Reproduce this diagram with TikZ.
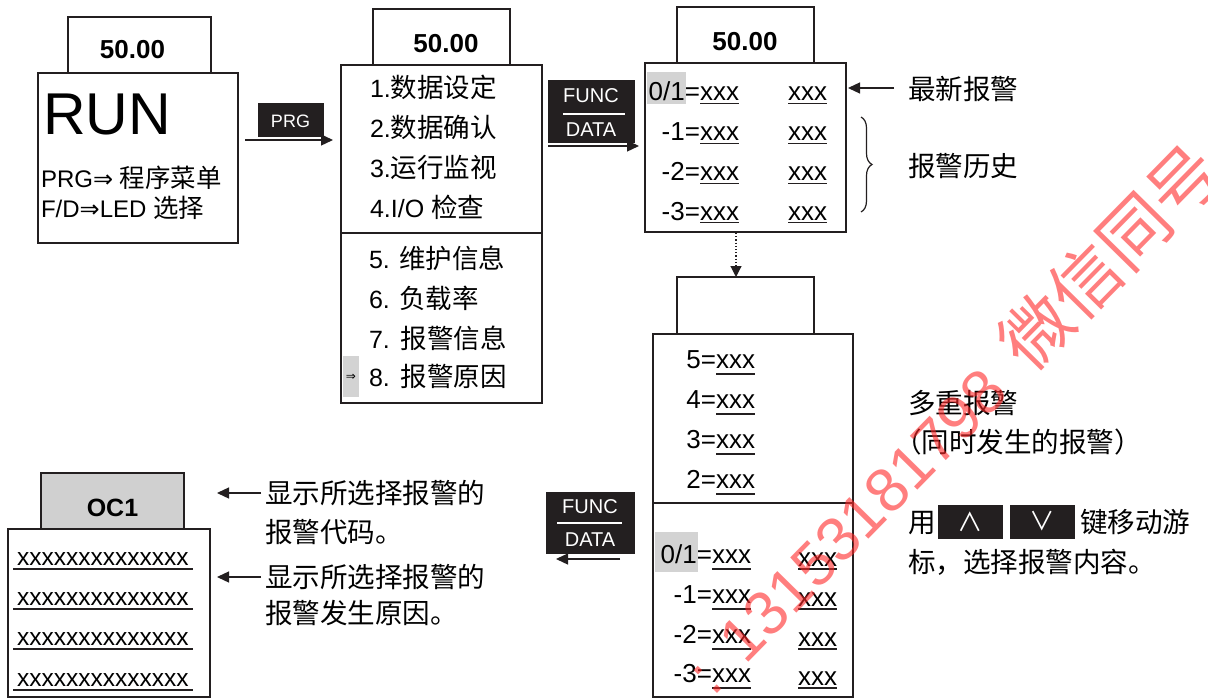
\documentclass[tikz,border=0pt]{standalone}
\usepackage{fontspec}
\setmainfont{Liberation Sans}
\newfontfamily\cjk[Scale=1.06]{Noto Sans CJK SC}
\newfontfamily\djv{DejaVu Sans}
\usetikzlibrary{arrows.meta,fit,decorations.pathreplacing}
\definecolor{ink}{RGB}{35,31,32}
\definecolor{hl}{RGB}{211,211,211}
\definecolor{ocg}{RGB}{208,208,208}
\definecolor{wmred}{RGB}{255,40,40}
\newcommand{\fsz}[1]{\fontsize{#1}{#1}\selectfont}
\newcommand{\eqrow}[5]{%
  \node[txt, anchor=base east] (#1l) at (#3,#4) {#2=};
  \node[txt] (#1x) at (#3,#4) {xxx};
  \draw[uline] ([yshift=-#5pt]#1x.base west) -- ([yshift=-#5pt]#1x.base east);
}
\newcommand{\xonly}[4]{%
  \node[txt] (#1) at (#2,#3) {xxx};
  \draw[uline] ([yshift=-#4pt]#1.base west) -- ([yshift=-#4pt]#1.base east);
}
\newcommand{\ocrow}[3]{%
  \node[txt, font=\fsz{24.5}] (#1) at (17,#2) {xxxxxxxxxxxxxx};
  \draw[uline] ([xshift=-4pt,yshift=-#3pt]#1.base west) -- ([xshift=4pt,yshift=-#3pt]#1.base east);
}
\begin{document}
\begin{tikzpicture}[x=1pt,y=-1pt,
  box/.style={draw=ink, line width=1.6pt, inner sep=0pt},
  btn/.style={fill=ink, draw=ink, line width=0.6pt, inner sep=0pt},
  hlbox/.style={fill=hl, inner sep=0pt},
  txt/.style={inner sep=0pt, outer sep=0pt, anchor=base west, text=black, font=\fsz{26}},
  mtxt/.style={txt, font=\fsz{25}},
  ntxt/.style={inner sep=0pt, anchor=base, font=\bfseries\fsz{26}},
  wtxt/.style={inner sep=0pt, anchor=base, text=white},
  ctxt/.style={txt, font=\cjk\fsz{26}},
  keyglyph/.style={inner sep=0pt, text=white, font=\cjk\fsz{24}},
  arr/.style={draw=ink, line width=1.3pt, -{Triangle[length=12pt,width=11pt]}},
  uline/.style={draw=ink, line width=1.8pt},
  wm/.style={rotate=45.5, anchor=base west, inner sep=0pt, text=wmred, text opacity=0.6}
]
\useasboundingbox (0,0) rectangle (1208,698);
\fill[white] (0,0) rectangle (1208,698);

% ---------------- RUN display ----------------
\node[box, fit={(68,17) (211,73)}] (runtop) {};
\node[box, fit={(38,73) (238,243)}] (run) {};
\node[ntxt] (runnum) at (132.5,59) {50.00};
\node[txt, font=\fsz{59}] (runlbl) at (43,135) {RUN};
\node[txt, font=\fsz{24}] (runl1) at (41,187) {PRG{\djv ⇒} {\cjk 程序菜单}};
\node[txt, font=\fsz{24}] (runl2) at (41,217) {F/D{\djv ⇒}LED {\cjk 选择}};

% PRG key and arrow
\node[btn, fit={(258,103) (323,136)}] (prg) {};
\node[wtxt, font=\fsz{18}] (prgt) at (290.5,128) {PRG};
\coordinate (a1s) at (245,140);
\coordinate (a1e) at (333,140);
\draw[arr] (a1s) -- (a1e);

% ---------------- Program menu ----------------
\node[box, fit={(373,9) (510,65)}] (mtop) {};
\node[box, fit={(341,65) (542,233)}] (menuA) {};
\node[box, fit={(341,233) (542,403)}] (menuB) {};
\node[ntxt] (mnum) at (446,53) {50.00};
\node[mtxt] (m1) at (370,98) {1.{\cjk 数据设定}};
\node[mtxt] (m2) at (370,138) {2.{\cjk 数据确认}};
\node[mtxt] (m3) at (370,178) {3.{\cjk 运行监视}};
\node[mtxt] (m4) at (370,217) {4.I/O {\cjk 检查}};
\node[mtxt] (m5) at (369,268) {5. {\cjk 维护信息}};
\node[mtxt] (m6) at (369,308) {6. {\cjk 负载率}};
\node[mtxt] (m7) at (369,348) {7.\hspace{11pt}{\cjk 报警信息}};
\node[hlbox, fit={(343,356) (359,397)}] (mhl) {};
\node[inner sep=0pt, font=\djv\fsz{12}] (mcur) at (351,377) {⇒};
\node[mtxt] (m8) at (369,386) {8.\hspace{11pt}{\cjk 报警原因}};

% FUNC/DATA key 1 and arrow
\node[btn, fit={(548,80) (634,142)}] (fd1) {};
\node[wtxt, font=\fsz{20}] (fd1a) at (591,103) {FUNC};
\draw[white, line width=1.2pt] (563,114) -- (625,114);
\node[wtxt, font=\fsz{20}] (fd1b) at (591,137) {DATA};
\coordinate (a2s) at (548,146);
\coordinate (a2e) at (639,146);
\draw[arr] (a2s) -- (a2e);

% ---------------- Alarm display ----------------
\node[box, fit={(677,7) (814,63)}] (atop) {};
\node[box, fit={(645,63) (846,232)}] (alarm) {};
\node[ntxt] (anum) at (745,51) {50.00};
\node[hlbox, fit={(647,72) (686,104)}] (ahl) {};
\eqrow{r0}{0/1}{700}{101}{2.5}
\eqrow{r1}{-1}{700}{141}{2.5}
\eqrow{r2}{-2}{700}{181}{2.5}
\eqrow{r3}{-3}{700}{220}{2.5}
\xonly{s0}{788}{101}{2.5}
\xonly{s1}{788}{141}{2.5}
\xonly{s2}{788}{181}{2.5}
\xonly{s3}{788}{220}{2.5}

\coordinate (n1s) at (894,88);
\coordinate (n1e) at (848,88);
\draw[arr] (n1s) -- (n1e);
\node[ctxt] (newest) at (908,100) {最新报警};
\draw[ink, line width=1.2pt, decorate, decoration={brace, amplitude=11pt}] (861,117) -- (861,212);
\node[ctxt] (hist) at (908,177) {报警历史};

% dotted arrow
\coordinate (d1) at (736,233);
\coordinate (d2) at (736,277);
\draw[draw=ink, line width=1.2pt, dotted, -{Triangle[length=11pt,width=11pt]}] (d1) -- (d2);

% ---------------- Multi alarm display ----------------
\node[box, fit={(677,277) (814,334)}] (mtop2) {};
\node[box, fit={(653,334) (853,503)}] (multiA) {};
\node[box, fit={(653,503) (853,697)}] (multiB) {};
\eqrow{u5}{5}{716}{368}{6}
\eqrow{u4}{4}{716}{408}{6}
\eqrow{u3}{3}{716}{448}{6}
\eqrow{u2}{2}{716}{488}{6}
\node[hlbox, fit={(655,532) (698,572)}] (bhl) {};
\eqrow{b0}{0/1}{712}{563}{6}
\eqrow{b1}{-1}{712}{603}{6}
\eqrow{b2}{-2}{712}{643}{6}
\eqrow{b3}{-3}{712}{682}{6}
\xonly{c0}{798}{566}{3}
\xonly{c1}{798}{606}{3}
\xonly{c2}{798}{646}{3}
\xonly{c3}{798}{685}{3}

% FUNC/DATA key 2 and arrow
\node[btn, fit={(546,492) (634,553)}] (fd2) {};
\node[wtxt, font=\fsz{20}] (fd2a) at (590,513) {FUNC};
\draw[white, line width=1.2pt] (557,523) -- (622,523);
\node[wtxt, font=\fsz{20}] (fd2b) at (590,546) {DATA};
\coordinate (a3s) at (620,559);
\coordinate (a3e) at (556,559);
\draw[arr] (a3s) -- (a3e);

% right notes
\node[ctxt] (multi) at (908,413) {多重报警};
\node[ctxt] (multi2) at (894,452) {（同时发生的报警）};
\node[ctxt] (use) at (908,532) {用};
\node[btn, fit={(938,505) (1002,538)}] (upk) {};
\node[keyglyph] (upt) at (970,521.5) {∧};
\node[btn, fit={(1010,505) (1074,538)}] (dnk) {};
\node[keyglyph] (dnt) at (1042,521.5) {∨};
\node[ctxt] (keys) at (1080,532) {键移动游};
\node[ctxt] (keys2) at (908,572) {标，选择报警内容。};

% ---------------- OC1 display ----------------
\node[box, fill=ocg, fit={(41,473) (184,529)}] (octop) {};
\node[box, fit={(8,529) (210,697)}] (oc) {};
\node[inner sep=0pt, anchor=base, font=\bfseries\fsz{25}] (ocl) at (112.5,516) {OC1};
\ocrow{o1}{565}{4}
\ocrow{o2}{605}{4}
\ocrow{o3}{645}{4}
\ocrow{o4}{686}{4}

\coordinate (c1s) at (261,493);
\coordinate (c1e) at (217,493);
\draw[arr] (c1s) -- (c1e);
\coordinate (c2s) at (261,577);
\coordinate (c2e) at (217,577);
\draw[arr] (c2s) -- (c2e);
\node[ctxt] (t1) at (265,503) {显示所选择报警的};
\node[ctxt] (t2) at (265,542) {报警代码。};
\node[ctxt] (t3) at (265,587) {显示所选择报警的};
\node[ctxt] (t4) at (265,623) {报警发生原因。};

% ---------------- watermark ----------------
\begin{scope}
\clip (0,0) rectangle (1208,698);
\node[wm] (wmk) at (713,698) {{\fsz{62}:\hspace{28.5pt}13153181798\hspace{28pt}}{\cjk\fsz{66}微信同号}};
\end{scope}
\end{tikzpicture}
\end{document}
